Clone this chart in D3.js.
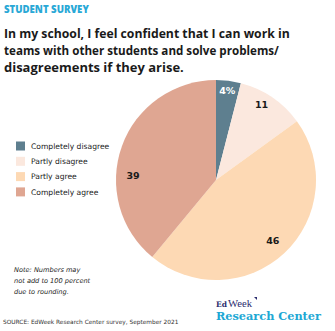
<!DOCTYPE html>
<html><head><meta charset="utf-8">
<script src="https://cdn.jsdelivr.net/npm/d3@7"></script>
<style>body{margin:0;background:#fff}svg{display:block}</style>
</head><body>
<svg id="c" width="335" height="331"></svg>
<script>
const categories = ["Completely disagree","Partly disagree","Partly agree","Completely agree"];
const values = [4, 11, 46, 39];
const sliceLabels = ["4%", "11", "46", "39"];
const colors = ["#5e7f8f", "#fbe8de", "#fdd9b4", "#dfa692"];
const labelColors = ["#ffffff", "#1a1a1a", "#1a1a1a", "#1a1a1a"];
const titleLines = ["In my school, I feel confident that I can work in","teams with other students and solve problems/","disagreements if they arise."];
const noteLines = ["Note: Numbers may","not add to 100 percent","due to rounding."];

const svg = d3.select("#c");
const F = "'DejaVu Sans', 'Open Sans', sans-serif";
const FT = "'Open Sans', 'DejaVu Sans', sans-serif";

// scale a text's font-size so its natural width matches a target width
function fit(sel, w, base){
  sel.attr("font-size", base);
  const n = sel.node().getComputedTextLength();
  sel.attr("font-size", base * w / n);
  return sel;
}

fit(svg.append("text").attr("x",4).attr("y",13).attr("font-family",FT).attr("font-weight",800)
  .attr("fill","#29a8d6").text("STUDENT SURVEY"), 85, 9);

const tl = [286, 275, 180];
titleLines.forEach((t,i)=>{
  fit(svg.append("text").attr("x",4).attr("y",38+i*17).attr("font-family",FT).attr("font-weight",700)
    .attr("fill","#1a1a1a").text(t), tl[i], 14);
});

const cx=216, cy=180, r=100;
const pie = d3.pie().sort(null).value(d=>d)(values);
const arc = d3.arc().innerRadius(0).outerRadius(r);
const g = svg.append("g").attr("transform",`translate(${cx},${cy})`);
g.selectAll("path").data(pie).join("path").attr("d",arc).attr("fill",(d,i)=>colors[i]);

// label radius and angular shift (degrees) per slice
const labelR = [90, 88, 83, 83];
const labelShift = [0, -3, 0, -17];
g.selectAll("text.l").data(pie).join("text").attr("class","l")
  .each(function(d,i){
    const a=(d.startAngle+d.endAngle)/2 + labelShift[i]*Math.PI/180;
    d3.select(this).attr("x",Math.sin(a)*labelR[i]).attr("y",-Math.cos(a)*labelR[i]);
  })
  .attr("dy","0.35em").attr("text-anchor","middle").attr("font-family",F).attr("font-weight",600)
  .attr("font-size",9.5).attr("fill",(d,i)=>labelColors[i]).text((d,i)=>sliceLabels[i]);

const leg = svg.append("g");
categories.forEach((c,i)=>{
  const y = 146 + i*15.3;
  leg.append("rect").attr("x",16).attr("y",y-4.5).attr("width",9).attr("height",9).attr("fill",colors[i]);
  leg.append("text").attr("x",31).attr("y",y).attr("dy","0.35em").attr("font-family",F)
    .attr("font-size",7.6).attr("fill","#1a1a1a").text(c);
});

noteLines.forEach((t,i)=>{
  svg.append("text").attr("x",14).attr("y",272+i*11).attr("font-family",F).attr("font-style","italic")
    .attr("font-size",6.6).attr("fill","#1a1a1a").text(t);
});

fit(svg.append("text").attr("x",3).attr("y",324).attr("font-family",F).attr("fill","#333")
  .text("SOURCE: EdWeek Research Center survey, September 2021"), 176, 7);

fit(svg.append("text").attr("x",216).attr("y",307).attr("font-family","'DejaVu Serif', serif")
  .attr("font-weight",700).attr("fill","#2b2d6e").text("Ed"), 11, 9);
fit(svg.append("text").attr("x",228).attr("y",307).attr("font-family","'Liberation Serif', serif")
  .attr("fill","#2b2d6e").text("Week"), 24, 9);
svg.append("path").attr("d","M254,297 l3,0 l0,3 z").attr("fill","#2b2d6e");
fit(svg.append("text").attr("x",216).attr("y",320).attr("font-family","'DejaVu Serif', serif")
  .attr("font-weight",700).attr("fill","#20a7d4").text("Research Center"), 105, 12);
</script>
</body></html>
